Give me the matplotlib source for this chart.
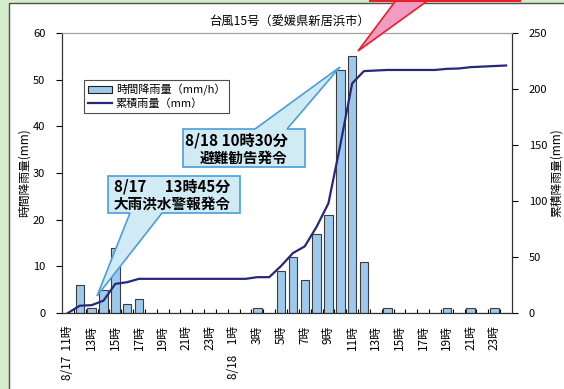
import matplotlib
matplotlib.use('Agg')
import matplotlib.pyplot as plt
from matplotlib.patches import Polygon, Rectangle
from matplotlib.lines import Line2D

plt.rcParams['font.family'] = ['Noto Sans CJK JP', 'DejaVu Sans']

# data: 8/17 11時 .. 8/18 24時 (hourly)
start_hour = 11
hourly = [0, 6, 1, 5, 14, 2, 3, 0, 0, 0, 0, 0, 0, 0, 0, 0, 1, 0, 9, 12,
          7, 17, 21, 52, 55, 11, 0, 1, 0, 0, 0, 0, 1, 0, 1, 0, 1, 0]
cumulative = [0, 6.5, 7, 11, 26, 27.5, 30.5, 30.5, 30.5, 30.5, 30.5, 30.5, 30.5,
              30.5, 30.5, 30.5, 32, 32, 42, 53.5, 59.5, 77, 98, 150, 205, 216,
              216.5, 217, 217, 217, 217, 217, 218, 218.3, 219.5, 220, 220.5, 221]
date_labels = {0: '8/17', 14: '8/18'}

W, H = 564, 389
fig = plt.figure(figsize=(W / 100, H / 100), dpi=100)
fig.patch.set_facecolor('#d4ebcc')


def px(x, y):
    return (x / W, 1 - y / H)


# white panel with frame
fig.add_artist(Rectangle(px(9, 400), (W - 9 + 10) / W, (400 - 3) / H,
                         transform=fig.transFigure, facecolor='white',
                         edgecolor='#505050', lw=1.0, zorder=0))

ax = fig.add_axes([62 / W, 1 - 313 / H, 450 / W, 280 / H])
ax2 = ax.twinx()

n = len(hourly)
xs = list(range(n))
ax.bar(xs, hourly, width=0.72, color='#9fc9ec', edgecolor='#3c3c3c', linewidth=0.8, zorder=2)
ax2.plot(xs, cumulative, color='#28287a', lw=1.6, zorder=3)

ax.set_xlim(-0.5, n - 0.5)
ax.set_ylim(0, 60)
ax2.set_ylim(0, 250)
ax.set_yticks(range(0, 61, 10))
ax2.set_yticks(range(0, 251, 50))
ax.tick_params(axis='y', labelsize=8, length=4, width=0.8, pad=8)
ax2.tick_params(axis='y', labelsize=8, length=4, width=0.8, pad=8)

# x ticks: small inward ticks at category borders, labels every 2 hours
ax.set_xticks([i + 0.5 for i in range(n - 1)])
ax.set_xticklabels([])
ax.tick_params(axis='x', which='major', direction='in', length=3, width=0.8)
lab_pos = list(range(0, n, 2))
labels = []
for i in lab_pos:
    h = (start_hour + i) % 24
    s = f'{h}時'
    if i in date_labels:
        s = date_labels[i] + ('  ' if h >= 10 else '    ') + s
    labels.append(s)
ax.set_xticks(lab_pos, minor=True)
ax.set_xticklabels(labels, minor=True, rotation=90, fontsize=8.5, va='top')
ax.tick_params(axis='x', which='minor', length=0, pad=9)

for a in (ax, ax2):
    a.spines['top'].set_color('#a0a0a0')
    a.spines['left'].set_color('#303030')
    a.spines['right'].set_color('#303030')
    a.spines['bottom'].set_color('#303030')
    a.patch.set_alpha(0)

ax.set_ylabel('時間降雨量(mm)', fontsize=8.5)
ax2.set_ylabel('累積降雨量(mm)', fontsize=8.5)
ax.yaxis.set_label_coords(-31 / 450, 0.5)
ax2.yaxis.set_label_coords(1 + 38 / 450, 0.5)

fig.text(*px(290, 21), '台風15号（愛媛県新居浜市）', ha='center', va='center', fontsize=8.8)

# legend
hbar = Rectangle((0, 0), 1, 1, facecolor='#9fc9ec', edgecolor='#202020', lw=0.8)
hline = Line2D([], [], color='#28287a', lw=1.6)
leg = ax.legend([hbar, hline], ['時間降雨量（mm/h）', '累積雨量（mm）'],
                loc='upper left', bbox_to_anchor=(22 / 450, 1 - 47 / 280),
                fontsize=8, frameon=True, fancybox=False, borderpad=0.35,
                labelspacing=0.25, handlelength=2.2, handletextpad=0.3,
                borderaxespad=0)
leg.get_frame().set_edgecolor('#202020')
leg.get_frame().set_linewidth(0.8)
leg.set_zorder(5)

# callouts
blue_fill, blue_edge = '#d0ebf4', '#4a9edb'
c1 = [px(183, 129), px(255, 129), px(340, 67), px(287, 129), px(305, 129),
      px(305, 167), px(183, 167)]
fig.add_artist(Polygon(c1, closed=True, transform=fig.transFigure,
                       facecolor=blue_fill, edgecolor=blue_edge, lw=1.2, zorder=6))
fig.text(*px(185, 141), '8/18 10時30分', fontsize=11, fontweight='bold',
         ha='left', va='center', zorder=7)
fig.text(*px(200, 158), '避難勧告発令', fontsize=10.5, fontweight='bold',
         ha='left', va='center', zorder=7)

c2 = [px(108, 176), px(240, 176), px(240, 213), px(162, 213), px(97, 296),
      px(130, 213), px(108, 213)]
fig.add_artist(Polygon(c2, closed=True, transform=fig.transFigure,
                       facecolor=blue_fill, edgecolor=blue_edge, lw=1.2, zorder=6))
fig.text(*px(114, 187), '8/17\u3000 13時45分', fontsize=10.8, fontweight='bold',
         ha='left', va='center', zorder=7)
fig.text(*px(114, 204), '大雨洪水警報発令', fontsize=10.5, fontweight='bold',
         ha='left', va='center', zorder=7)

# pink callout at the top
c3 = [px(397, -1), px(358, 51), px(430, -1)]
fig.add_artist(Polygon(c3, closed=True, transform=fig.transFigure,
                       facecolor='#f29bc3', edgecolor='#e8202a', lw=1.2, zorder=6))
fig.add_artist(Line2D([370 / W, 520 / W], [1 - 0.5 / H, 1 - 0.5 / H],
                      transform=fig.transFigure, color='#e8202a', lw=1.5, zorder=6))

fig.savefig('out.png', dpi=100)
